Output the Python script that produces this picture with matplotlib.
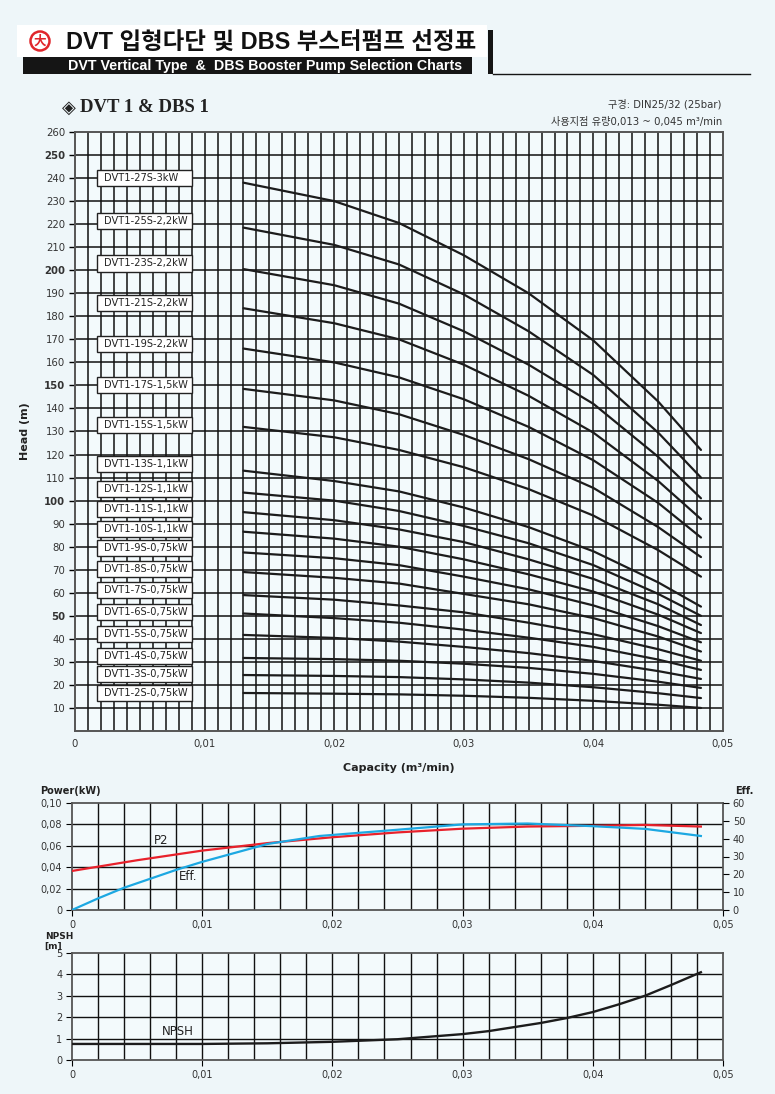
import matplotlib.pyplot as plt
from matplotlib.patches import Rectangle, Circle

plt.rcParams['font.family'] = ['DejaVu Sans', 'Noto Sans CJK KR']

# ---- data ----
models = ['DVT1-27S-3kW', 'DVT1-25S-2,2kW', 'DVT1-23S-2,2kW', 'DVT1-21S-2,2kW',
          'DVT1-19S-2,2kW', 'DVT1-17S-1,5kW', 'DVT1-15S-1,5kW', 'DVT1-13S-1,1kW',
          'DVT1-12S-1,1kW', 'DVT1-11S-1,1kW', 'DVT1-10S-1,1kW', 'DVT1-9S-0,75kW',
          'DVT1-8S-0,75kW', 'DVT1-7S-0,75kW', 'DVT1-6S-0,75kW', 'DVT1-5S-0,75kW',
          'DVT1-4S-0,75kW', 'DVT1-3S-0,75kW', 'DVT1-2S-0,75kW']
label_head = [240, 221.4, 203, 185.8, 168, 150.2, 132.8, 115.9, 105, 96.4, 87.7,
              79.4, 70.3, 61.2, 51.6, 42.1, 32.6, 24.7, 16.5]

q_head = [0.013, 0.02, 0.025, 0.03, 0.035, 0.04, 0.045, 0.0483]
head_curves = [
    [238, 230, 220.5, 206.5, 190, 169.5, 143, 122],
    [218.5, 211, 202.5, 189.5, 173.5, 154.5, 129.5, 110],
    [200.5, 193.5, 185.5, 173.5, 159, 142, 119, 101],
    [183.5, 177, 170, 159, 145.5, 129.5, 108.5, 92],
    [166, 160, 153.5, 144, 132, 117.5, 99, 84],
    [148.5, 143.5, 137.5, 128.5, 118, 105.5, 88.5, 75.5],
    [132, 127.5, 122, 114.5, 105, 93.5, 78.5, 67],
    [113, 108.5, 104, 97, 88.5, 78, 64.5, 54],
    [103.5, 100, 95.5, 89, 81.5, 72, 59.5, 50],
    [95, 91.5, 87.5, 82, 74.5, 66, 55, 46],
    [86.5, 83.5, 80, 74.5, 68, 60.5, 50.5, 42.5],
    [77.5, 75, 72, 67, 61.5, 54.5, 45.5, 38.5],
    [69, 66.5, 64, 59.5, 55, 49, 41, 34.5],
    [59, 57, 54.5, 51.5, 47, 42, 35.5, 30.5],
    [51, 49, 47, 44, 40.5, 36.5, 31, 26.5],
    [41.7, 40.4, 38.8, 36.5, 33.8, 30.4, 26, 22.6],
    [31.7, 31.2, 30.5, 29.2, 27.4, 24.8, 21.4, 18.7],
    [24.3, 23.9, 23.4, 22.4, 21, 19, 16.4, 14.3],
    [16.5, 16.2, 15.9, 15.3, 14.4, 13.1, 11.4, 10],
]

q_p2 = [0, 0.005, 0.01, 0.015, 0.02, 0.025, 0.03, 0.035, 0.04, 0.044, 0.0483]
p2 = [0.0365, 0.0465, 0.0555, 0.0625, 0.068, 0.0725, 0.076, 0.078, 0.0787, 0.0795, 0.078]

q_eff = [0, 0.002, 0.004, 0.006, 0.008, 0.01, 0.012, 0.015, 0.019, 0.025, 0.03,
         0.035, 0.04, 0.044, 0.0483]
eff = [0, 6.5, 12.5, 17.5, 22.5, 27, 31, 37, 41.5, 45, 48, 48.5, 47, 45.5, 41.5]

q_npsh = [0, 0.01, 0.015, 0.02, 0.025, 0.03, 0.032, 0.036, 0.038, 0.04, 0.042,
          0.044, 0.046, 0.0483]
npsh = [0.75, 0.75, 0.78, 0.85, 0.97, 1.21, 1.35, 1.73, 1.96, 2.24, 2.6, 3.0, 3.5, 4.1]

x_ticks = [0, 0.01, 0.02, 0.03, 0.04, 0.05]
x_labels = ['0', '0,01', '0,02', '0,03', '0,04', '0,05']

# ---- figure ----
W, H = 775, 1094
fig = plt.figure(figsize=(W / 100, H / 100), dpi=100)
fig.patch.set_facecolor('#eef6f9')
face = '#f3fafc'
grid_c = '#111'


def add_ax(l, t, r, b):
    return fig.add_axes([l / W, 1 - b / H, (r - l) / W, (b - t) / H])


def draw_grid(a, nx, dx, ys, lw):
    for i in range(1, nx):
        a.axvline(i * dx, color=grid_c, lw=lw, zorder=1)
    for yv in ys:
        a.axhline(yv, color=grid_c, lw=lw, zorder=1)


# header / background layer in pixel coords
bg = fig.add_axes([0, 0, 1, 1])
bg.set_xlim(0, W)
bg.set_ylim(H, 0)
bg.axis('off')
bg.add_patch(Rectangle((17, 25), 470, 32, facecolor='white', edgecolor='none'))
bg.add_patch(Rectangle((23, 57), 449, 17, facecolor='#151515', edgecolor='none'))
bg.add_patch(Rectangle((488, 30), 5, 44, facecolor='#151515', edgecolor='none'))
bg.plot([493, 750], [73.5, 73.5], color='#151515', lw=1)
bg.add_patch(Circle((40, 41), 9.5, facecolor='white', edgecolor='#e0262b', lw=1.8))
bg.text(40, 41.5, '大', color='#e0262b', fontsize=9, ha='center', va='center',
        family=['Noto Sans CJK KR'], fontweight='bold')
bg.text(66, 42, 'DVT 입형다단 및 DBS 부스터펌프 선정표', fontsize=16.9, fontweight='bold',
        ha='left', va='center', color='#111', family=['Liberation Sans', 'Noto Sans CJK KR'])
bg.text(68, 66, 'DVT Vertical Type  &  DBS Booster Pump Selection Charts', fontsize=10.3,
        fontweight='bold', ha='left', va='center', color='white', family=['Liberation Sans'])
bg.text(62, 108, '◈', fontsize=13, ha='left', va='center', color='#222', family=['DejaVu Sans'])
bg.text(80, 108, 'DVT 1 & DBS 1', fontsize=13.5, fontweight='bold', ha='left', va='center',
        color='#222', family=['Liberation Serif'])
bg.text(722, 104, '구경: DIN25/32 (25bar)', fontsize=7.3, ha='right', va='center', color='#333')
bg.text(722, 122, '사용지점 유량0,013 ~ 0,045 m³/min', fontsize=7.3, ha='right', va='center',
        color='#333')

# ---- main head chart ----
ax = add_ax(75, 132, 723, 731)
ax.set_facecolor(face)
ax.set_xlim(0, 0.05)
ax.set_ylim(0, 260)
draw_grid(ax, 50, 0.001, range(10, 260, 10), 1.1)
ax.set_xticks(x_ticks)
ax.set_xticklabels(x_labels, fontsize=7.3, color='#333')
ax.set_yticks(range(10, 261, 10))
ax.set_yticklabels([str(v) for v in range(10, 261, 10)], fontsize=7.3, color='#333')
for t in ax.get_yticklabels():
    if int(t.get_text()) % 50 == 0:
        t.set_fontweight('bold')
ax.tick_params(axis='x', length=0, pad=6)
ax.tick_params(axis='y', length=4, width=1, pad=3)
for s in ax.spines.values():
    s.set_color('#555')
    s.set_linewidth(1.4)

for curve in head_curves:
    ax.plot(q_head, curve, color='#1c1c1c', lw=1.6, solid_capstyle='round',
            solid_joinstyle='round', zorder=3)

box_l, box_r, box_h = 0.0017, 0.0090, 7.2
for name, yv in zip(models, label_head):
    ax.add_patch(Rectangle((box_l, yv - box_h / 2), box_r - box_l, box_h,
                           facecolor='white', edgecolor='#222', lw=1, zorder=4))
    ax.text(box_l + 0.0005, yv, name, fontsize=7.1, ha='left', va='center',
            color='#222', zorder=5)

ax.set_ylabel('Head (m)', fontsize=8, fontweight='bold', labelpad=10, color='#222')
ax.set_xlabel('Capacity (m³/min)', fontsize=8, fontweight='bold', labelpad=10, color='#222')

# ---- power / efficiency chart ----
axp = add_ax(72, 803, 723, 910)
axp.set_facecolor(face)
axp.set_xlim(0, 0.05)
axp.set_ylim(0, 0.10)
draw_grid(axp, 25, 0.002, [0.02, 0.04, 0.06, 0.08], 1)
axp.set_yticks([0, 0.02, 0.04, 0.06, 0.08, 0.10])
axp.set_yticklabels(['0', '0,02', '0,04', '0,06', '0,08', '0,10'], fontsize=7, color='#333')
axp.set_xticks(x_ticks)
axp.set_xticklabels(x_labels, fontsize=7, color='#333')
axp.tick_params(axis='both', length=4, pad=3)
axp.plot(q_p2, p2, color='#e8212b', lw=1.6, zorder=4)
axp.text(0.0063, 0.0615, 'P2', fontsize=8.5, color='#222')
axp.text(0.0082, 0.028, 'Eff.', fontsize=8.5, color='#222')
axp.text(-0.00246, 0.111, 'Power(kW)', fontsize=7, fontweight='bold', color='#222',
         va='center', ha='left')
for s in axp.spines.values():
    s.set_color('#555')
    s.set_linewidth(1.3)

axe = axp.twinx()
axe.set_ylim(0, 60)
axe.set_yticks(range(0, 61, 10))
axe.set_yticklabels([str(v) for v in range(0, 61, 10)], fontsize=7, color='#333')
axe.tick_params(axis='y', length=4, pad=3)
axe.plot(q_eff, eff, color='#1ca8e2', lw=1.6, zorder=4)
axe.text(0.0509, 66.7, 'Eff.', fontsize=7, fontweight='bold', color='#222',
         va='center', ha='left')
for s in axe.spines.values():
    s.set_visible(False)

# ---- NPSH chart ----
axn = add_ax(72, 953, 723, 1060)
axn.set_facecolor(face)
axn.set_xlim(0, 0.05)
axn.set_ylim(0, 5)
draw_grid(axn, 25, 0.002, [1, 2, 3, 4], 1)
axn.set_yticks(range(0, 6))
axn.set_yticklabels([str(v) for v in range(0, 6)], fontsize=7, color='#333')
axn.set_xticks(x_ticks)
axn.set_xticklabels(x_labels, fontsize=7, color='#333')
axn.tick_params(axis='both', length=4, pad=3)
axn.plot(q_npsh, npsh, color='#1c1c1c', lw=1.7, zorder=4)
axn.text(0.0069, 1.15, 'NPSH', fontsize=8.5, color='#222')
axn.text(-0.0021, 5.75, 'NPSH', fontsize=6.5, fontweight='bold', color='#222',
         va='center', ha='left')
axn.text(-0.0021, 5.33, '[m]', fontsize=6.5, fontweight='bold', color='#222',
         va='center', ha='left')
for s in axn.spines.values():
    s.set_color('#555')
    s.set_linewidth(1.3)

fig.savefig('out.png', dpi=100, facecolor=fig.get_facecolor())
